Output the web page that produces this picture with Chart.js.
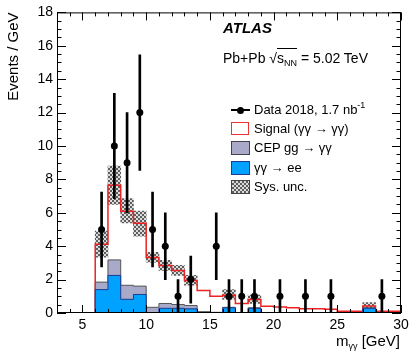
<!DOCTYPE html>
<html>
<head>
<meta charset="utf-8">
<script src="https://cdn.jsdelivr.net/npm/chart.js@4.4.1/dist/chart.umd.min.js"></script>
<style>
  html, body { margin: 0; padding: 0; background: #fff; }
  #wrap { position: relative; width: 414px; height: 354px; font-family: "Liberation Sans", Arial, Helvetica, sans-serif; color: #000; }
  #wrap canvas { position: absolute; left: 0; top: 0; }
  .lbl { position: absolute; white-space: nowrap; }
  .atlas { left: 223px; top: 19px; font-size: 15px; line-height: 17px; font-weight: bold; font-style: italic; }
  .energy { left: 223px; top: 50px; font-size: 14px; line-height: 16px; }
  .xtitle { right: 14px; top: 332px; font-size: 15px; line-height: 17px; }
  .sub { font-size: 9px; position: relative; top: 3px; }
  .sup { font-size: 9px; position: relative; top: -6px; }
  .root { border-top: 1px solid #000; padding-top: 1px; }
  .leg { position: absolute; left: 231px; width: 170px; height: 16px; font-size: 13px; line-height: 16px; }
  .leg .t { position: absolute; left: 23px; top: 0; white-space: nowrap; }
  .sw { position: absolute; left: 0; top: 1px; width: 17px; height: 12px; border: 1px solid #444; }
  .mline { position: absolute; left: 0; top: 7px; width: 19px; height: 2px; background: #000; }
  .mdot { position: absolute; left: 6px; top: 4.5px; width: 7px; height: 7px; border-radius: 50%; background: #000; }
</style>
</head>
<body>
<div id="wrap">
  <canvas id="chart" width="414" height="354"></canvas>
  <div class="lbl atlas">ATLAS</div>
  <div class="lbl energy">Pb+Pb √<span class="root">s<span class="sub">NN</span></span> = 5.02 TeV</div>
  <div class="leg" style="top:102px"><div class="mline"></div><div class="mdot"></div><span class="t">Data 2018, 1.7 nb<span class="sup">-1</span></span></div>
  <div class="leg" style="top:121px"><div class="sw" style="background:#fff;border:1.5px solid #ee3333;width:16px;height:11px"></div><span class="t">Signal (γγ → γγ)</span></div>
  <div class="leg" style="top:140px"><div class="sw" style="background:#a9a9c9"></div><span class="t">CEP gg → γγ</span></div>
  <div class="leg" style="top:160px"><div class="sw" style="background:#00a2ff;border-color:#1f3a8f"></div><span class="t">γγ → ee</span></div>
  <div class="leg" style="top:179px"><div class="sw" style="background:repeating-conic-gradient(#5e5e5e 0 25%, #dcdcdc 0 50%) 0 0/4px 4px"></div><span class="t">Sys. unc.</span></div>
  <div class="lbl xtitle">m<span class="sub">γγ</span> [GeV]</div>
</div>
<script>
// axis ranges and ticks
const xMin = 3, xMax = 30;
const yMin = 0, yMax = 18;
const xTickValues = [5, 10, 15, 20, 25, 30];
const yTickValues = [0, 2, 4, 6, 8, 10, 12, 14, 16, 18];

// histogram bins (low edges, 1 GeV wide)
const binLow = [6, 7, 8, 9, 10, 11, 12, 13, 14, 15, 16, 17, 18, 19, 20, 21, 22, 23, 24, 25, 26, 27, 28, 29];
// signal + background (red line)
const signalTotal = [4.12, 7.65, 6.1, 5.38, 3.33, 2.85, 2.54, 1.95, 1.34, 1.0, 1.07, 0.57, 0.81, 0.41, 0.36, 0.32, 0.25, 0.25, 0.22, 0.1, 0.1, 0.42, 0.1, 0.1];
// gamma gamma -> ee
const eeBkg = [1.4, 2.25, 0.82, 1.11, 0, 0.28, 0.28, 0.25, 0, 0, 0.31, 0, 0.28, 0, 0, 0, 0, 0, 0, 0, 0, 0.28, 0, 0];
// CEP gg -> gamma gamma (stacked above ee)
const cepBkg = [0.45, 0.93, 0.84, 0.5, 0.34, 0.29, 0.23, 0.2, 0.08, 0.04, 0.03, 0.03, 0.03, 0.03, 0.03, 0.03, 0.03, 0.03, 0.03, 0.03, 0.03, 0.03, 0.03, 0.03];

// systematic uncertainty band
const sysBins = [6, 7, 8, 9, 10, 11, 12, 13, 16, 18, 27];
const sysLow = [3.35, 6.5, 5.4, 4.6, 3.04, 2.55, 2.25, 1.66, 0.81, 0.57, 0.28];
const sysHigh = [4.9, 8.8, 6.85, 6.1, 3.63, 3.15, 2.85, 2.25, 1.4, 1.07, 0.63];

// data points
const dataX = [6.5, 7.5, 8.5, 9.5, 10.5, 11.5, 12.5, 13.5, 15.5, 16.5, 17.5, 18.5, 20.5, 22.5, 24.5, 28.5];
const dataY = [5, 10, 9, 12, 5, 4, 1, 2, 4, 1, 1, 1, 1, 1, 1, 1];
const dataErr = [2.24, 3.16, 3.0, 3.46, 2.24, 2.0, 1.0, 1.41, 2.0, 1.0, 1.0, 1.0, 1.0, 1.0, 1.0, 1.0];

const cepTop = eeBkg.map((v, i) => v + cepBkg[i]);

function stepPoints(values, startX) {
  const pts = binLow.map((x, i) => ({ x: x, y: values[i] }));
  pts.push({ x: binLow[binLow.length - 1] + 1, y: values[values.length - 1] });
  pts.unshift({ x: binLow[0], y: 0 });
  if (startX !== undefined) pts.unshift({ x: startX, y: 0 });
  return pts;
}

// checkered fill for the sys. band
const pc = document.createElement('canvas');
pc.width = 4; pc.height = 4;
const pctx = pc.getContext('2d');
pctx.fillStyle = '#dcdcdc'; pctx.fillRect(0, 0, 4, 4);
pctx.fillStyle = '#5e5e5e'; pctx.fillRect(0, 0, 2, 2); pctx.fillRect(2, 2, 2, 2);
const sysPattern = pctx.createPattern(pc, 'repeat');

// ATLAS style frame with inward ticks
const atlasFrame = {
  id: 'atlasFrame',
  afterDraw(chart) {
    const { ctx, chartArea: a, scales: { x, y } } = chart;
    ctx.save();
    ctx.strokeStyle = '#000';
    ctx.lineWidth = 1;
    ctx.strokeRect(a.left + 0.5, a.top + 0.5, a.right - a.left - 1, a.bottom - a.top - 1);
    ctx.beginPath();
    for (let v = xMin; v <= xMax; v += 1) {
      const px = Math.round(x.getPixelForValue(v)) + 0.5;
      const len = v % 5 === 0 ? 8 : 4;
      ctx.moveTo(px, a.bottom); ctx.lineTo(px, a.bottom - len);
      ctx.moveTo(px, a.top); ctx.lineTo(px, a.top + len);
    }
    for (let v = yMin; v <= yMax; v += 0.5) {
      const py = Math.round(y.getPixelForValue(v)) + 0.5;
      const len = v % 2 === 0 ? 9 : 4.5;
      ctx.moveTo(a.left, py); ctx.lineTo(a.left + len, py);
      ctx.moveTo(a.right, py); ctx.lineTo(a.right - len, py);
    }
    ctx.stroke();
    ctx.restore();
  }
};

Chart.defaults.font.family = '"Liberation Sans", Arial, Helvetica, sans-serif';
Chart.defaults.color = '#000';

new Chart(document.getElementById('chart'), {
  type: 'line',
  data: {
    datasets: [
      {
        label: 'Data 2018',
        type: 'scatter',
        data: dataX.map((x, i) => ({ x: x, y: dataY[i] })),
        pointRadius: 3.5,
        pointBackgroundColor: '#000',
        pointBorderWidth: 0,
        showLine: false,
        order: 0
      },
      {
        label: 'stat. error',
        type: 'bar',
        data: dataX.map((x, i) => ({ x: x, y: [dataY[i] - dataErr[i], dataY[i] + dataErr[i]] })),
        backgroundColor: '#000',
        barThickness: 2,
        grouped: false,
        order: 1
      },
      {
        label: 'γγ → ee',
        data: stepPoints(eeBkg),
        stepped: 'before',
        fill: 'origin',
        backgroundColor: '#00a2ff',
        borderColor: '#1f3a8f',
        borderWidth: 1,
        pointRadius: 0,
        order: 2
      },
      {
        label: 'CEP gg → γγ',
        data: stepPoints(cepTop),
        stepped: 'before',
        fill: 'origin',
        backgroundColor: '#a9a9c9',
        borderColor: '#555',
        borderWidth: 1,
        pointRadius: 0,
        order: 3
      },
      {
        label: 'Signal (γγ → γγ)',
        data: stepPoints(signalTotal, xMin),
        stepped: 'before',
        fill: false,
        borderColor: '#ee2222',
        borderWidth: 1.5,
        pointRadius: 0,
        order: 4
      },
      {
        label: 'Sys. unc.',
        type: 'bar',
        data: sysBins.map((x, i) => ({ x: x + 0.5, y: [sysLow[i], sysHigh[i]] })),
        backgroundColor: sysPattern,
        barPercentage: 1,
        categoryPercentage: 1,
        grouped: false,
        order: 5
      }
    ]
  },
  options: {
    responsive: false,
    animation: false,
    layout: { padding: { top: 9, right: 13, left: 0, bottom: 0 } },
    plugins: {
      legend: { display: false },
      tooltip: { enabled: false }
    },
    scales: {
      x: {
        type: 'linear',
        min: xMin,
        max: xMax,
        offset: false,
        grid: { display: false, drawTicks: false },
        border: { display: false },
        ticks: { padding: 4, font: { size: 14 }, maxRotation: 0, autoSkip: false },
        afterBuildTicks: s => { s.ticks = xTickValues.map(v => ({ value: v })); },
        afterFit: s => { s.height = 41; }
      },
      y: {
        type: 'linear',
        min: yMin,
        max: yMax,
        grid: { display: false, drawTicks: false },
        border: { display: false },
        ticks: { padding: 4, font: { size: 14 } },
        afterBuildTicks: s => { s.ticks = yTickValues.map(v => ({ value: v })); },
        afterFit: s => { s.width = 57; },
        title: {
          display: true,
          text: 'Events / GeV',
          align: 'end',
          font: { size: 15 },
          padding: { top: 5, bottom: 0 }
        }
      }
    }
  },
  plugins: [atlasFrame]
});
</script>
</body>
</html>
